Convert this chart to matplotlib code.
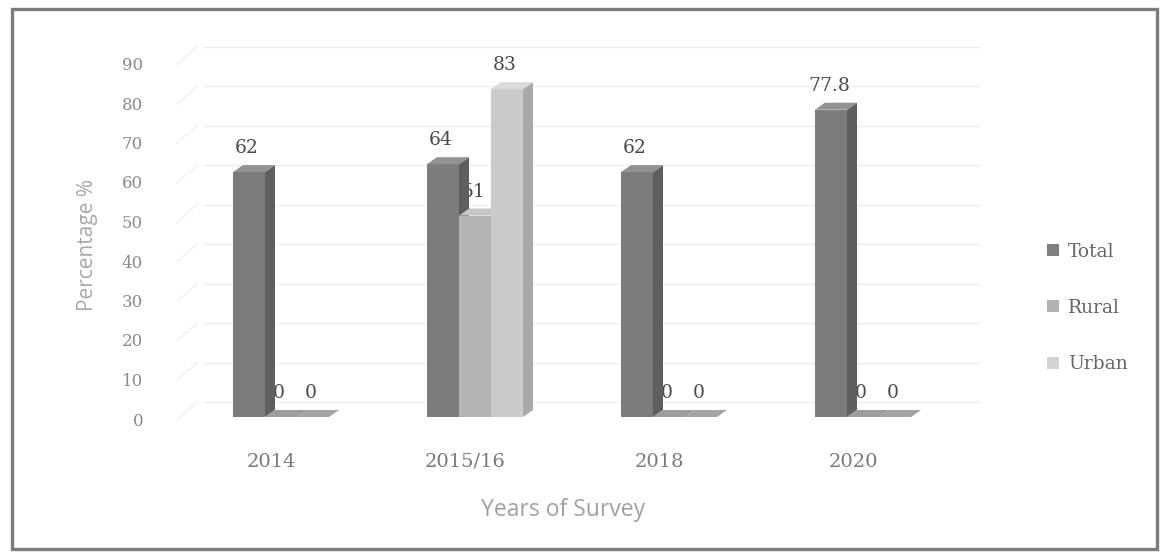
import matplotlib
matplotlib.use("Agg")
import matplotlib.pyplot as plt
from matplotlib.patches import Polygon, Rectangle, Patch

# Survey data
years = ["2014", "2015/16", "2018", "2020"]
series = ["Total", "Rural", "Urban"]
total = [62, 64, 62, 77.8]
rural = [0, 51, 0, 0]
urban = [0, 83, 0, 0]
values = [total, rural, urban]
y_ticks = [0, 10, 20, 30, 40, 50, 60, 70, 80, 90]

# face colours per series: front, side, top
front_cols = ["#7c7c7c", "#b4b4b4", "#cbcbcb"]
side_cols = ["#5f5f5f", "#929292", "#a9a9a9"]
top_cols = ["#929292", "#c6c6c6", "#dadada"]
flat_cols = ["#8a8a8a", "#9c9c9c", "#a4a4a4"]
legend_cols = ["#7f7f7f", "#b2b2b2", "#d2d2d2"]

W, H = 1164, 556
fig = plt.figure(figsize=(W / 100, H / 100), dpi=100)

# plot area in pixel geometry
ax_l, ax_r, ax_b, ax_t = 184, 960, 417, 61.5
ax = fig.add_axes([ax_l / W, 1 - ax_b / H, (ax_r - ax_l) / W, (ax_b - ax_t) / H])
ax.set_xlim(-0.5, len(years) - 0.5)
ax.set_ylim(0, 90)
ax.axis("off")

px_x = (ax_r - ax_l) / (ax.get_xlim()[1] - ax.get_xlim()[0])
px_y = (ax_b - ax_t) / (ax.get_ylim()[1] - ax.get_ylim()[0])
def dxp(p):
    return p / px_x
def dyp(p):
    return p / px_y

x0, x1 = ax.get_xlim()

# back wall and side wall gridlines
wall_dx, wall_dy = dxp(20), dyp(15)
for v in y_ticks:
    ax.plot([x0 + wall_dx, x1 + wall_dx], [v + wall_dy, v + wall_dy],
            color="#eeeeee", lw=1.0, zorder=1, clip_on=False)
    ax.plot([x0 - dxp(7), x0 + wall_dx - dxp(7)], [v - dyp(3), v + wall_dy],
            color="#f0f0f0", lw=1.0, zorder=1, clip_on=False)

serif = "DejaVu Serif"

# y tick labels
for v in y_ticks:
    ax.text(x0 - dxp(41), v - dyp(4), str(v), ha="right", va="center",
            fontsize=12, color="#8a8a8a", family=serif, clip_on=False)

# 3-D looking columns
w = 0.165
ddx, ddy = dxp(10), dyp(7)
for j, vals in enumerate(values):
    for i, v in enumerate(vals):
        xc = i + (j - 1) * w
        xl, xr = xc - w / 2, xc + w / 2
        z = 3 + j
        ax.bar(xc, v, width=w, color=front_cols[j], zorder=z, linewidth=0)
        ax.add_patch(Polygon([(xr, 0), (xr + ddx, ddy), (xr + ddx, v + ddy), (xr, v)],
                             closed=True, facecolor=side_cols[j], lw=0, zorder=z))
        top_c = top_cols[j] if v > 0 else flat_cols[j]
        ax.add_patch(Polygon([(xl, v), (xl + ddx, v + ddy), (xr + ddx, v + ddy), (xr, v)],
                             closed=True, facecolor=top_c, lw=0, zorder=z))
        lbl = ("%g" % v)
        ax.text(xc - dxp(2), v + dyp(24), lbl, ha="center", va="center", fontsize=13.5,
                color="#4a4a4a", family=serif, zorder=2.5, clip_on=False)

# category labels
for i, yr in enumerate(years):
    ax.text(i - dxp(10), -dyp(45), yr, ha="center", va="center", fontsize=14,
            color="#7a7a7a", family=serif, clip_on=False)

# axis titles
fig.text(88 / W, 1 - 245 / H, "Percentage %", rotation=90, ha="center", va="center",
         fontsize=15, color="#a8a8a8", family="Open Sans")
fig.text(563 / W, 1 - 510 / H, "Years of Survey", ha="center", va="center",
         fontsize=16.5, color="#a0a0a0", family="Open Sans")

# legend
handles = [Patch(facecolor=c, edgecolor="none") for c in legend_cols]
leg = fig.legend(handles, series, loc="center left", bbox_to_anchor=(1030 / W, 1 - 308 / H),
                 frameon=False, labelspacing=2.05, handlelength=0.62,
                 handleheight=0.62, handletextpad=0.5,
                 prop={"family": serif, "size": 13.5})
for t in leg.get_texts():
    t.set_color("#666666")

# outer frame
fig.patches.append(Rectangle((12 / W, 1 - 549 / H), (1157 - 12) / W, (549 - 9) / H,
                             transform=fig.transFigure, fill=False,
                             edgecolor="#7c7c7c", lw=2.4))

fig.savefig("out.png", dpi=100, facecolor="white")
